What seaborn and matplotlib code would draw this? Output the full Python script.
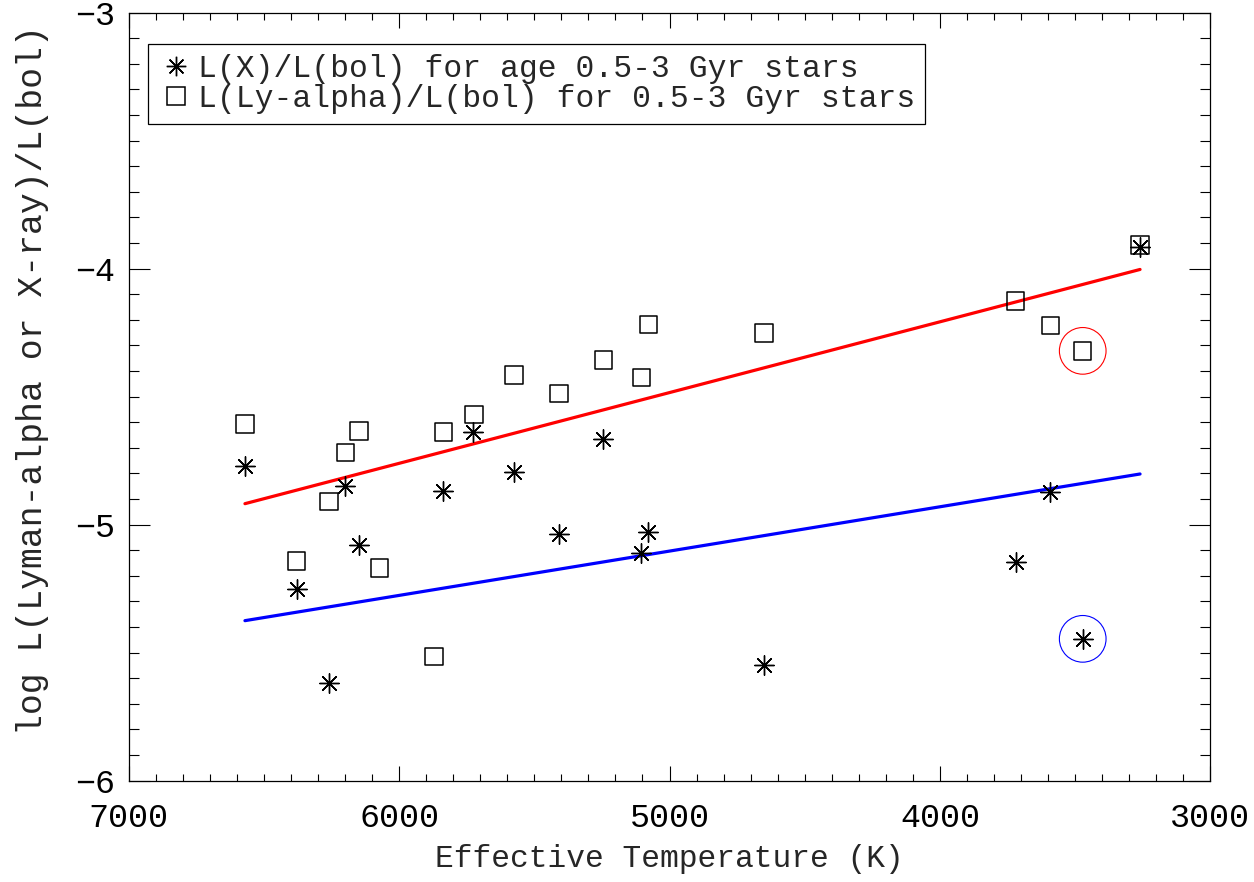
import matplotlib
matplotlib.use("Agg")
import matplotlib.pyplot as plt
from matplotlib.lines import Line2D
from matplotlib.ticker import MultipleLocator
import seaborn as sns

# --- data ---
# L(X)/L(bol), asterisks
teff_x = [6570, 6379, 6260, 6199, 6148, 5838, 5726, 5575, 5409, 5245,
          5105, 5078, 4650, 3720, 3592, 3472, 3260]
lx_lbol = [-4.770, -5.252, -5.620, -4.849, -5.078, -4.867, -4.637, -4.795, -5.038, -4.666,
           -5.109, -5.030, -5.548, -5.145, -4.871, -5.446, -3.916]

# L(Ly-alpha)/L(bol), squares
teff_lya = [6570, 6379, 6259, 6197, 6148, 6072, 5871, 5836, 5723, 5575,
            5409, 5245, 5104, 5078, 4650, 3720, 3592, 3472, 3260]
llya_lbol = [-4.607, -5.142, -4.910, -4.719, -4.634, -5.169, -5.514, -4.638, -4.569, -4.415,
             -4.487, -4.357, -4.426, -4.217, -4.251, -4.126, -4.223, -4.321, -3.907]

# fit lines (end points)
fit_teff = [6570, 3260]
fit_lya = [-4.918, -4.003]
fit_x = [-5.375, -4.802]

# circled star
flag_teff = [3472]
flag_lya = [-4.321]
flag_x = [-5.446]

sns.set_style("ticks")
plt.rcParams["font.family"] = ["Liberation Mono", "DejaVu Sans"]

fig = plt.figure(figsize=(12.54, 8.82), dpi=100)
ax = fig.add_axes([0.1026, 0.1149, 0.8626, 0.8707])

ast = (8, 2, 0)

sns.lineplot(x=fit_teff, y=fit_lya, color="red", linewidth=2.3, ax=ax, sort=False)
sns.lineplot(x=fit_teff, y=fit_x, color="blue", linewidth=2.3, ax=ax, sort=False)

sns.scatterplot(x=teff_lya, y=llya_lbol, marker="s", s=12.5 ** 2, facecolor="none",
                edgecolor="black", linewidth=1.1, ax=ax, zorder=3)
sns.scatterplot(x=teff_x, y=lx_lbol, marker=ast, s=14 ** 2, color="black",
                linewidth=1.0, ax=ax, zorder=3)

sns.scatterplot(x=flag_teff, y=flag_lya, marker="o", s=33.6 ** 2, facecolor="none",
                edgecolor="red", linewidth=0.8, ax=ax, zorder=2)
sns.scatterplot(x=flag_teff, y=flag_x, marker="o", s=33.6 ** 2, facecolor="none",
                edgecolor="blue", linewidth=0.8, ax=ax, zorder=2)

ax.set_xlim(7000, 3000)
ax.set_ylim(-6, -3)
ax.xaxis.set_major_locator(MultipleLocator(1000))
ax.xaxis.set_minor_locator(MultipleLocator(100))
ax.yaxis.set_major_locator(MultipleLocator(1))
ax.yaxis.set_minor_locator(MultipleLocator(0.1))

ax.tick_params(which="both", direction="in", top=True, right=True, width=0.8, colors="black")
ax.tick_params(axis="x", which="major", length=11, pad=16, labelsize=24)
ax.tick_params(axis="x", which="minor", length=5)
ax.tick_params(axis="y", which="major", length=15, pad=10, labelsize=24)
ax.tick_params(axis="y", which="minor", length=7.5)
for sp in ax.spines.values():
    sp.set_linewidth(0.9)
    sp.set_color("black")

ax.set_xlabel("Effective Temperature (K)", fontsize=22.5)
ax.set_ylabel("log L(Lyman-alpha or X-ray)/L(bol)", fontsize=25)
ax.xaxis.set_label_coords(0.5, -0.082)
ax.yaxis.set_label_coords(-0.074, 0.522)

handles = [
    Line2D([], [], ls="none", marker=ast, ms=14, mew=1.0, color="black"),
    Line2D([], [], ls="none", marker="s", ms=12.5, mew=1.1, mfc="none", mec="black"),
]
labels = ["L(X)/L(bol) for age 0.5-3 Gyr stars", "L(Ly-alpha)/L(bol) for 0.5-3 Gyr stars"]
leg = ax.legend(handles, labels, loc="upper left",
                bbox_to_anchor=(148.3 / 1254, 1 - 44.3 / 882), bbox_transform=fig.transFigure,
                fontsize=22.6, frameon=True, fancybox=False, framealpha=1,
                borderaxespad=0, borderpad=0.32, handlelength=1.15, handletextpad=0.1,
                labelspacing=0.0)
leg.get_frame().set_edgecolor("black")
leg.get_frame().set_linewidth(0.9)

fig.savefig("out.png", dpi=100)
